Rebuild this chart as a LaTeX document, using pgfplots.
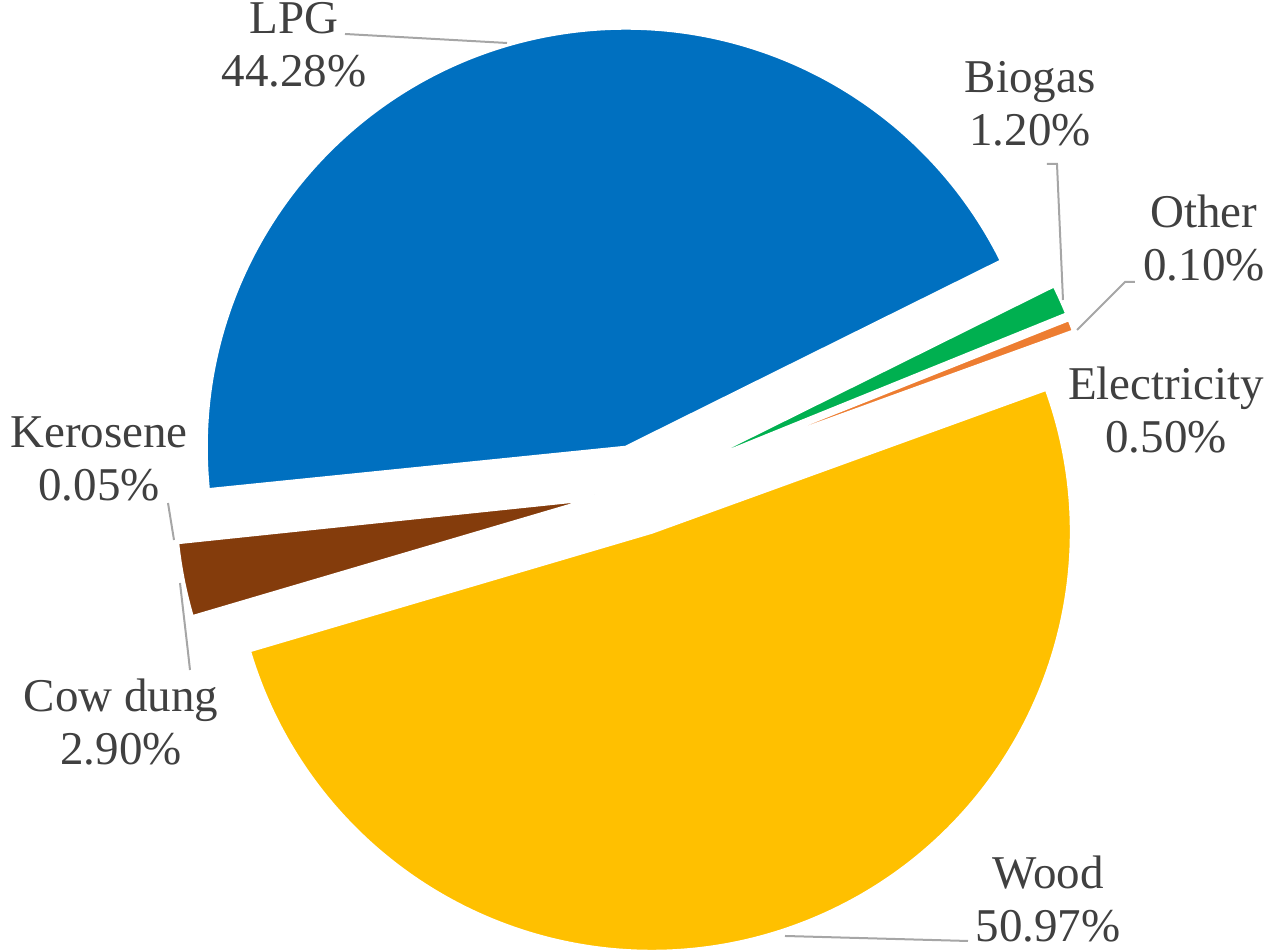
\documentclass[border=0pt]{standalone}
\usepackage{fontspec}
\setmainfont{Liberation Serif}
\usepackage{pgfplots}
\usepackage{pgfplotstable}
\pgfplotsset{compat=1.18}
\definecolor{cLPG}{HTML}{0070C0}
\definecolor{cBio}{HTML}{00B050}
\definecolor{cOth}{HTML}{A5A5A5}
\definecolor{cEle}{HTML}{ED7D31}
\definecolor{cWood}{HTML}{FFC000}
\definecolor{cCow}{HTML}{843C0C}
\definecolor{cKer}{HTML}{7F7F7F}
\definecolor{txt}{HTML}{404040}
\definecolor{lead}{HTML}{A6A6A6}
\pgfplotstableread{
name value
LPG 44.28
Biogas 1.20
Other 0.10
Electricity 0.50
Wood 50.97
Cowdung 2.90
Kerosene 0.05
}\piedata
\begin{document}
\begin{tikzpicture}
\pgfplotstablegetelem{0}{value}\of\piedata \let\vA\pgfplotsretval
\pgfplotstablegetelem{1}{value}\of\piedata \let\vB\pgfplotsretval
\pgfplotstablegetelem{2}{value}\of\piedata \let\vC\pgfplotsretval
\pgfplotstablegetelem{3}{value}\of\piedata \let\vD\pgfplotsretval
\pgfplotstablegetelem{4}{value}\of\piedata \let\vE\pgfplotsretval
\pgfplotstablegetelem{5}{value}\of\piedata \let\vF\pgfplotsretval
\pgfplotstablegetelem{6}{value}\of\piedata \let\vG\pgfplotsretval
\pgfmathsetmacro\aA{185.8}
\pgfmathsetmacro\aB{\aA-3.6*\vA}
\pgfmathsetmacro\aC{\aB-3.6*\vB}
\pgfmathsetmacro\aD{\aC-3.6*\vC}
\pgfmathsetmacro\aE{\aD-3.6*\vD}
\pgfmathsetmacro\aF{\aE-3.6*\vE}
\pgfmathsetmacro\aG{\aF-3.6*\vF}
\pgfmathsetmacro\aH{\aG-3.6*\vG}
\newcommand\slice[3]{\fill[#3,draw=white,line width=1pt] ([shift={({(#1+#2)/2}:11pt)}]axis cs:638,462) -- ++(#1:105pt) arc[start angle=#1,end angle=#2,radius=105pt] -- cycle;}
\newcommand\lab[4]{\node[anchor=base,inner sep=0pt,text=txt,font=\fontsize{11.75}{14}\selectfont] at (axis cs:#1,#2) {#3};\node[anchor=base,inner sep=0pt,text=txt,font=\fontsize{11.75}{14}\selectfont] at (axis cs:#1,{#2-53}) {#4};}
\begin{axis}[hide axis, x=0.25pt, y=0.25pt, xmin=0, xmax=1268, ymin=0, ymax=952, scale only axis, clip=false]
\addplot[draw=none] coordinates {(0,0) (1268,952)};
\coordinate (bl) at (axis cs:0,0);
\coordinate (tr) at (axis cs:1268,952);
\slice{\aA}{\aB}{cLPG}
\slice{\aB}{\aC}{cBio}
\slice{\aC}{\aD}{cOth}
\slice{\aD}{\aE}{cEle}
\slice{\aE}{\aF}{cWood}
\slice{\aF}{\aG}{cCow}
\slice{\aG}{\aH}{cKer}
\draw[lead,line width=0.5pt] (axis cs:345,918) -- (axis cs:507,909);
\draw[lead,line width=0.5pt] (axis cs:1047,788) -- (axis cs:1057,788) -- (axis cs:1063,652);
\draw[lead,line width=0.5pt] (axis cs:1135,670) -- (axis cs:1125,670) -- (axis cs:1077,622);
\draw[lead,line width=0.5pt] (axis cs:168,449) -- (axis cs:174,412);
\draw[lead,line width=0.5pt] (axis cs:180,369) -- (axis cs:188,300) -- (axis cs:190,282);
\draw[lead,line width=0.5pt] (axis cs:785,16) -- (axis cs:968,11);
\lab{294}{918}{LPG}{44.28\%}
\lab{1030}{859}{Biogas}{1.20\%}
\lab{1204}{724}{Other}{0.10\%}
\lab{1166}{552}{Electricity}{0.50\%}
\lab{99}{504}{Kerosene}{0.05\%}
\lab{121}{240}{Cow dung}{2.90\%}
\lab{1048}{63}{Wood}{50.97\%}
\end{axis}
\pgfresetboundingbox
\path (bl) rectangle (tr);
\end{tikzpicture}
\end{document}
